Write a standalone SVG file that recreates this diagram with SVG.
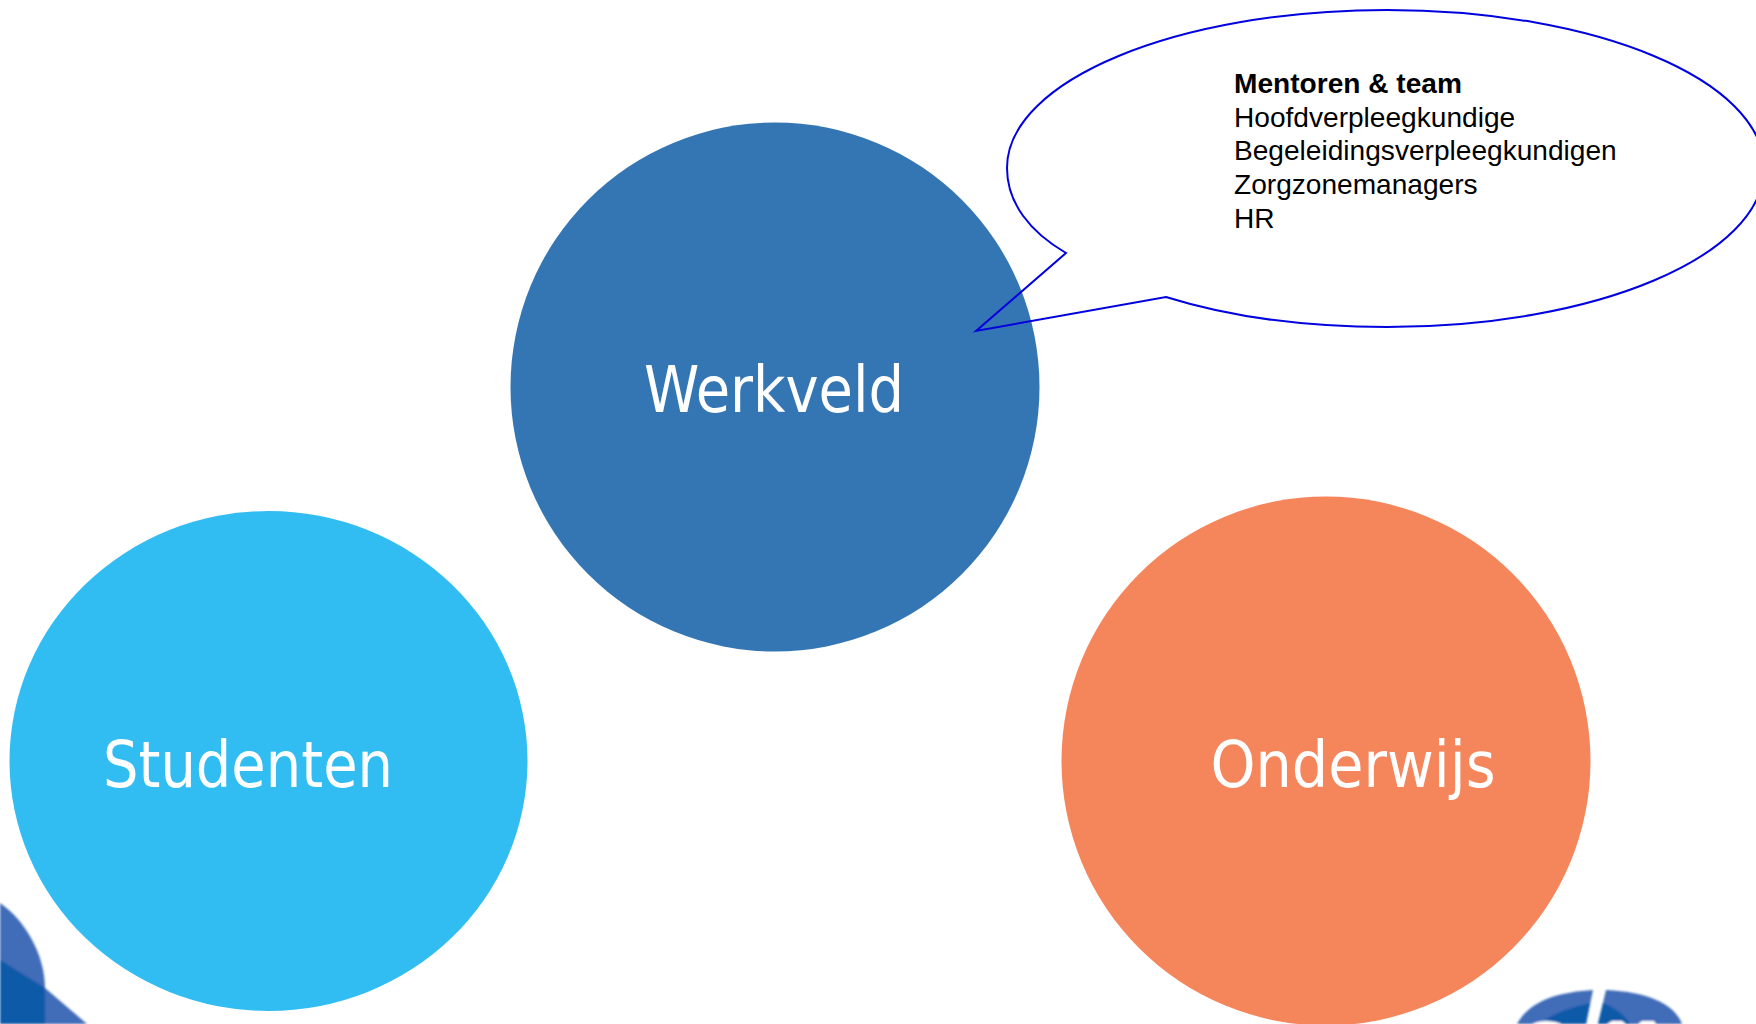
<svg xmlns="http://www.w3.org/2000/svg" width="1756" height="1024" viewBox="0 0 1756 1024">
<style>
.big{font-family:"DejaVu Sans Condensed","DejaVu Sans",sans-serif;font-size:64px;fill:#fff;text-anchor:middle}
.small{font-family:"Liberation Sans",Arial,sans-serif;font-size:28.1px;fill:#000}
</style>
<defs><filter id="b"><feGaussianBlur stdDeviation="0.8"/></filter></defs>
<rect width="1756" height="1024" fill="#fff"/>
<g id="logo-left" filter="url(#b)">
<path d="M0 903C25 920 45 955 45 988L87 1024H0Z" fill="#3f6cb8"/>
<path d="M0 960L45 988V1024H0Z" fill="#0a5aa8"/>
</g>
<g id="logo-right" filter="url(#b)">
<path d="M1517 1024C1530 1000 1560 992 1593 990L1586 1024ZM1606 990C1650 992 1675 1005 1682 1024H1598Z" fill="#3f6cb8"/>
<path d="M1540 1024C1555 1012 1570 1008 1590 1003L1586 1024ZM1603 1003L1598 1024H1630C1625 1015 1615 1008 1603 1003Z" fill="#0a5aa8"/>
<path d="M1532 1024C1540 1020 1552 1020 1562 1024ZM1607 1024L1612 1021H1622L1626 1024ZM1638 1024L1642 1021H1654L1656 1024Z" fill="#fff"/>
</g>
<g id="studenten"><ellipse cx="268.500" cy="761" rx="259" ry="250" fill="#31bdf2"/><text class="big" x="248" y="787" textLength="290" lengthAdjust="spacingAndGlyphs">Studenten</text></g>
<g id="werkveld"><circle cx="775" cy="387" r="264.500" fill="#3476b4"/><text class="big" x="774" y="412" textLength="260" lengthAdjust="spacingAndGlyphs">Werkveld</text></g>
<g id="onderwijs"><circle cx="1326" cy="761" r="264.500" fill="#f5855b"/><text class="big" x="1353" y="787" textLength="285" lengthAdjust="spacingAndGlyphs">Onderwijs</text></g>
<g id="callout">
<path d="M976 331L1066 253C1030 232 1007 203 1007 168C1007 80 1178 10 1387 10C1596 10 1764 80 1764 168C1764 256 1596 327 1387 327C1307 327 1230 317 1166 297Z" fill="none" stroke="#0000e0" stroke-width="2"/>
<text class="small" y="93" font-weight="700" x="1234">Mentoren &amp; team</text>
<text class="small" y="127" x="1234">Hoofdverpleegkundige</text>
<text class="small" y="160" x="1234">Begeleidingsverpleegkundigen</text>
<text class="small" y="194" x="1234">Zorgzonemanagers</text>
<text class="small" y="228" x="1234">HR</text>
</g>
</svg>
